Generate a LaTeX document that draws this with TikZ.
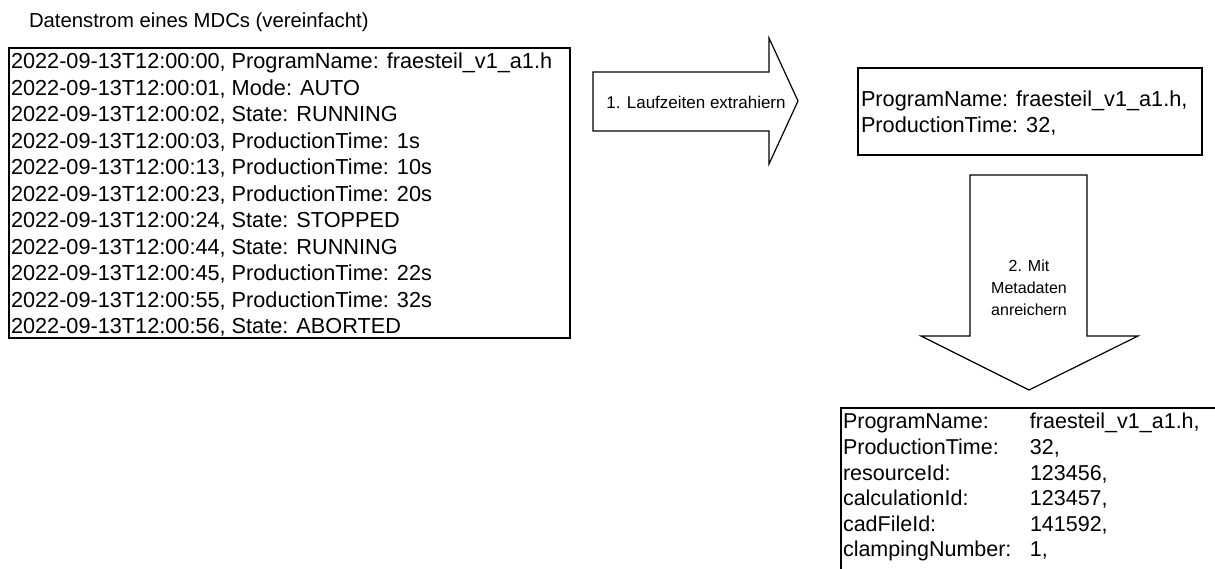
\documentclass[tikz,border=0pt]{standalone}
\usepackage{fontspec}
\setmainfont{Liberation Sans}
\begin{document}
\begin{tikzpicture}[x=1pt,y=-1pt,
  every node/.style={inner sep=0pt, outer sep=0pt},
  frame/.style={draw=black, line width=1.2pt},
  boxtext/.style={font=\fontsize{21.7}{26.5}\selectfont, align=left},
  arrowtext/.style={align=center}]
\useasboundingbox (0,0) rectangle (1215,568);
\begin{scope}
\clip (0,0) rectangle (1215,568);

% heading
\node[anchor=base west, font=\fontsize{20.3}{24}\selectfont] (title) at (29,27)
  {Datenstrom eines MDCs (vereinfacht)};

% raw data stream
\draw[frame] (9,48) rectangle (570,338);
\node[boxtext, anchor=west] (stream) at (11,195) {%
2022-09-13T12:00:00, ProgramName: fraesteil\_v1\_a1.h\\
2022-09-13T12:00:01, Mode: AUTO\\
2022-09-13T12:00:02, State: RUNNING\\
2022-09-13T12:00:03, ProductionTime: 1s\\
2022-09-13T12:00:13, ProductionTime: 10s\\
2022-09-13T12:00:23, ProductionTime: 20s\\
2022-09-13T12:00:24, State: STOPPED\\
2022-09-13T12:00:44, State: RUNNING\\
2022-09-13T12:00:45, ProductionTime: 22s\\
2022-09-13T12:00:55, ProductionTime: 32s\\
2022-09-13T12:00:56, State: ABORTED};

% step 1: block arrow to the right
\draw[frame, line join=miter] (593,72) -- (769,72) -- (769,38) -- (798,101)
  -- (769,164) -- (769,131) -- (593,131) -- cycle;
\node[arrowtext, font=\fontsize{17}{21}\selectfont] (step1) at (696,102) {1. Laufzeiten extrahiern};

% extracted run times
\draw[frame] (858,68) rectangle (1202,155);
\node[boxtext, anchor=west] (runtime) at (861,113) {%
ProgramName: fraesteil\_v1\_a1.h,\\
ProductionTime: 32,};

% step 2: block arrow downwards
\draw[frame, line join=miter] (970,175) -- (1087,175) -- (1087,336) -- (1138,336)
  -- (1029,390) -- (921,336) -- (970,336) -- cycle;
\node[arrowtext, font=\fontsize{16}{22}\selectfont] (step2) at (1029,288) {2. Mit\\Metadaten\\anreichern};

% enriched record
\draw[frame] (841,408) rectangle (1240,600);
\node[anchor=north west, font=\fontsize{21.5}{25.6}\selectfont] (enriched) at (843,411) {%
\begin{tabular}{@{}p{187pt}@{}l@{}}
ProgramName: & fraesteil\_v1\_a1.h,\\
ProductionTime: & 32,\\
resourceId: & 123456,\\
calculationId: & 123457,\\
cadFileId: & 141592,\\
clampingNumber: & 1,
\end{tabular}};
\end{scope}
\end{tikzpicture}
\end{document}
